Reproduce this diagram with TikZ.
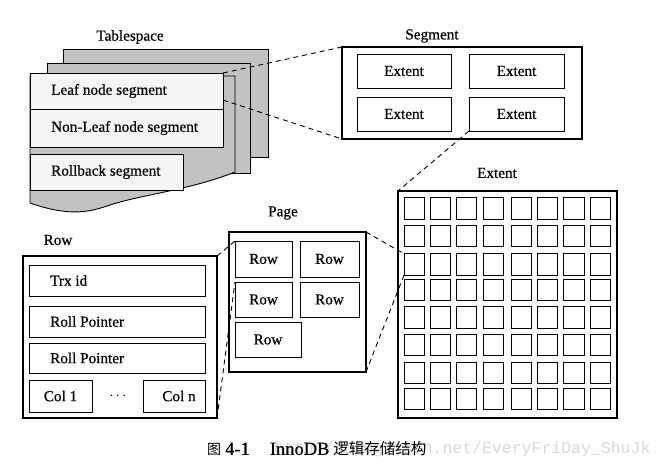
\documentclass[tikz,border=0pt]{standalone}
\usepackage{fontspec}
\setmainfont{Liberation Serif}[UprightFeatures={FakeBold=0.6}]
\newfontfamily\cjk{Noto Sans CJK SC}
\newfontfamily\wmfont{Liberation Mono}
\begin{document}
\begin{tikzpicture}[x=1pt,y=-1pt,
  sheet/.style={draw=black, line width=0.9pt, fill=gray!48},
  wbox/.style={draw, line width=0.9pt, fill=gray!8, inner sep=0pt, outer sep=0pt},
  obox/.style={draw, line width=1.3pt, fill=white, inner sep=0pt, outer sep=0pt},
  ibox/.style={draw, line width=0.9pt, fill=white, inner sep=0pt, outer sep=0pt, font=\fontsize{15.2}{17}\selectfont},
  cell/.style={draw, line width=0.9pt, minimum width=20.5pt, minimum height=21.5pt, inner sep=0pt, outer sep=0pt},
  lbl/.style={font=\fontsize{15.2}{17}\selectfont, inner sep=0pt},
  conn/.style={dash pattern=on 5pt off 4pt, line width=0.9pt}]
\useasboundingbox (0,0) rectangle (665,466);
\fill[white] (0,0) rectangle (665,466);

% Tablespace
\draw[sheet] (63,49) rectangle (268,157);
\draw[sheet] (47,63) rectangle (250,173);
\draw[sheet] (30,76) -- (235,76) -- (235,172) .. controls (190,190) and (140,195) .. (110,205) .. controls (90,212) and (70,217) .. (30,203) -- cycle;
\node[wbox, minimum width=193pt, minimum height=36pt] (leaf) at (126.5,91) {};
\node[wbox, minimum width=193pt, minimum height=38pt] (nonleaf) at (126.5,128) {};
\node[wbox, minimum width=153pt, minimum height=36pt] (rollback) at (106.5,172) {};
\node[lbl, anchor=west] at ([xshift=21pt]leaf.west) {Leaf node segment};
\node[lbl, anchor=west] at ([xshift=21pt]nonleaf.west) {Non-Leaf node segment};
\node[lbl, anchor=west] at ([xshift=21pt]rollback.west) {Rollback segment};
\node[lbl] (tslbl) at (130,37) {Tablespace};

% Segment
\node[obox, minimum width=240pt, minimum height=92pt] (seg) at (462,93) {};
\node[lbl] (seglbl) at (432,36) {Segment};
\node[ibox, minimum width=94pt, minimum height=34pt] (e1) at (404,71) {Extent};
\node[ibox, minimum width=95pt, minimum height=34pt] (e2) at (516.5,71) {Extent};
\node[ibox, minimum width=94pt, minimum height=34pt] (e3) at (404,114) {Extent};
\node[ibox, minimum width=95pt, minimum height=34pt] (e4) at (516.5,114) {Extent};

% Extent
\node[obox, minimum width=219pt, minimum height=227pt] (ext) at (507.5,304.5) {};
\node[lbl] (extlbl) at (497,173) {Extent};
\foreach \c [count=\i] in {404,430.3,456.3,483,511,537.3,563.7,590.3}
  \foreach \r [count=\j] in {197.7,225.3,253.7,279,306.7,334,362,388}
    \node[cell, anchor=north west] (g\j-\i) at (\c,\r) {};

% Page
\node[obox, minimum width=137pt, minimum height=140pt] (page) at (297.5,302) {};
\node[lbl] (pagelbl) at (283,213) {Page};
\node[ibox, minimum width=57pt, minimum height=36pt] (r1) at (263.5,259) {Row};
\node[ibox, minimum width=59pt, minimum height=36pt] (r2) at (329.5,259) {Row};
\node[ibox, minimum width=57pt, minimum height=35pt] (r3) at (263.5,299.5) {Row};
\node[ibox, minimum width=59pt, minimum height=35pt] (r4) at (329.5,299.5) {Row};
\node[ibox, minimum width=66pt, minimum height=35pt] (r5) at (268,339.5) {Row};

% Row
\node[obox, minimum width=194pt, minimum height=162pt] (row) at (120,337) {};
\node[lbl] (rowlbl) at (58,240) {Row};
\node[ibox, minimum width=176pt, minimum height=31pt] (trx) at (117,280.5) {};
\node[ibox, minimum width=176pt, minimum height=31pt] (rp1) at (117,321.5) {};
\node[ibox, minimum width=176pt, minimum height=30pt] (rp2) at (117,358) {};
\node[lbl, anchor=west] at ([xshift=21pt]trx.west) {Trx id};
\node[lbl, anchor=west] at ([xshift=21pt]rp1.west) {Roll Pointer};
\node[lbl, anchor=west] at ([xshift=21pt]rp2.west) {Roll Pointer};
\node[ibox, minimum width=63pt, minimum height=32pt] (c1) at (60.5,396) {Col 1};
\node[ibox, minimum width=62pt, minimum height=32pt] (cn) at (174,396) {\hspace*{10pt}Col n};
\node[lbl] (dots) at (118,396) {$\cdots$};

% connectors
\coordinate (lf2) at (223,100);
\draw[conn] (leaf.north east) -- (seg.north west);
\draw[conn] (lf2) -- (seg.south west);
\draw[conn] (e4.south west) -- (ext.north west);
\draw[conn] (page.north east) -- (g3-1.north west);
\draw[conn] (page.south east) -- (g3-1.south west);
\draw[conn] (row.north east) -- (r1.north west);
\draw[conn] (row.south east) -- (r3.north west);

% caption and watermark
\node[anchor=west, inner sep=0pt, text=gray!30, font=\wmfont\fontsize{16.5}{18}\selectfont] (wm) at (274,449) {http://blog.csdn.net/EveryFriDay\_ShuJk};
\node[anchor=west, inner sep=0pt, font=\fontsize{18.5}{20}\selectfont] (cap) at (207,449) {{\cjk\fontsize{14}{16}\selectfont 图}\hspace{4pt}4-1\hspace{20pt}InnoDB\hspace{4pt}{\cjk\fontsize{15.5}{17}\selectfont 逻辑存储结构}};
\end{tikzpicture}
\end{document}
